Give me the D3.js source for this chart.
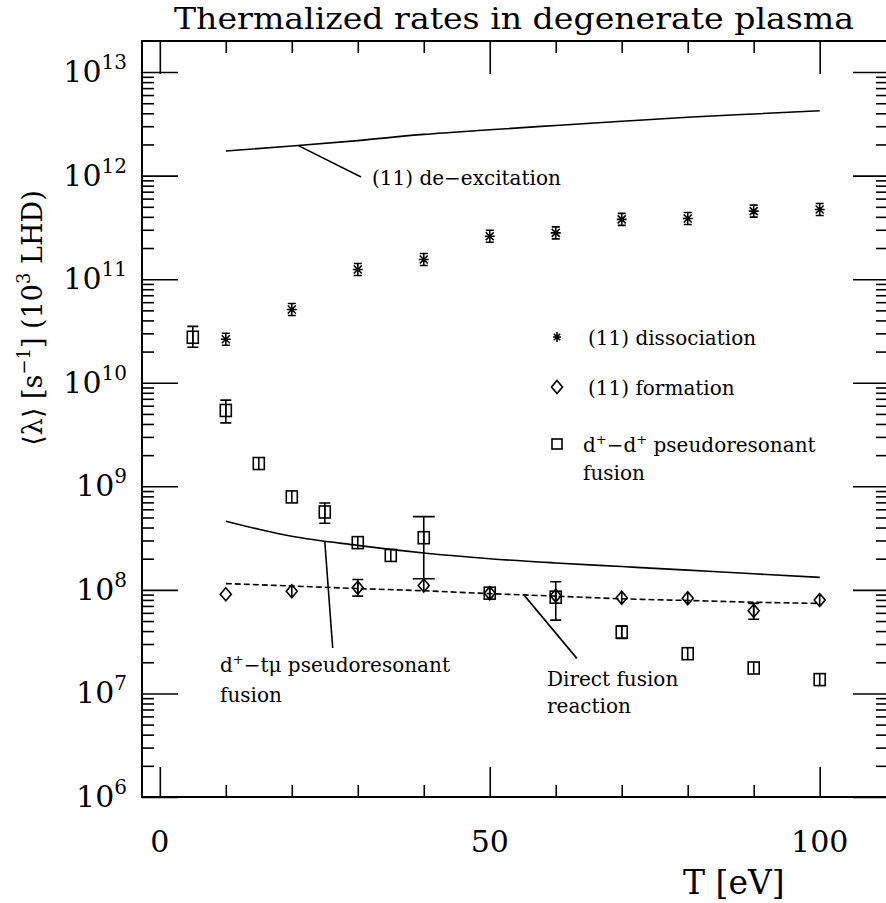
<!DOCTYPE html>
<meta charset="utf-8">
<style>
body { margin: 0; background: #fff; }
text { font-family: "DejaVu Serif", serif; fill: #000; }
.axis path { display: none; }
.axis line { stroke: #000; stroke-width: 1.6; }
.curve { fill: none; stroke: #000; stroke-width: 1.6; }
.mark { fill: none; stroke: #000; stroke-width: 1.6; }
</style>
<svg width="886" height="903"></svg>
<script src="https://cdnjs.cloudflare.com/ajax/libs/d3/7.8.5/d3.min.js"></script>
<script>
"use strict";

// (11) de-excitation, solid curve
var deexT    = [10, 20, 30, 40, 50, 60, 70, 80, 90, 100];
var deexRate = [1.73e12, 1.93e12, 2.18e12, 2.5e12, 2.77e12, 3.05e12, 3.35e12, 3.66e12, 3.94e12, 4.23e12];

// d+-tmu pseudoresonant fusion, solid curve
var dtmuT    = [10, 15, 20, 30, 40, 50, 60, 70, 80, 90, 100];
var dtmuRate = [4.6e8, 3.85e8, 3.29e8, 2.69e8, 2.27e8, 2.0e8, 1.82e8, 1.68e8, 1.55e8, 1.43e8, 1.32e8];

// direct fusion reaction, dashed curve
var dirT    = [10, 20, 30, 40, 50, 60, 70, 80, 90, 100];
var dirRate = [1.15e8, 1.09e8, 1.03e8, 9.8e7, 9.2e7, 8.7e7, 8.2e7, 7.9e7, 7.6e7, 7.4e7];

// (11) dissociation, asterisks
var dissT    = [10, 20, 30, 40, 50, 60, 70, 80, 90, 100];
var dissRate = [2.63e10, 5.1e10, 1.24e11, 1.55e11, 2.6e11, 2.8e11, 3.78e11, 3.86e11, 4.54e11, 4.71e11];

// (11) formation, diamonds
var formT    = [10, 20, 30, 40, 50, 60, 70, 80, 90, 100];
var formRate = [9.06e7, 9.7e7, 1.05e8, 1.1e8, 9.3e7, 8.8e7, 8.4e7, 8.3e7, 6.3e7, 8.0e7];
var formLo   = [null, null, 8.7e7, null, null, null, null, null, 5.2e7, null];
var formHi   = [null, null, 1.26e8, null, null, null, null, null, 7.4e7, null];

// d+-d+ pseudoresonant fusion, squares
var ddT    = [5, 10, 15, 20, 25, 30, 35, 40, 50, 60, 70, 80, 90, 100];
var ddRate = [2.75e10, 5.4e9, 1.66e9, 7.9e8, 5.65e8, 2.86e8, 2.15e8, 3.19e8, 9.3e7, 8.5e7, 3.9e7, 2.42e7, 1.76e7, 1.36e7];
var ddLo   = [2.2e10, 4.1e9, null, null, 4.4e8, null, null, 1.28e8, null, 5.1e7, 3.4e7, null, null, null];
var ddHi   = [3.5e10, 6.8e9, null, null, 6.9e8, null, null, 5.1e8, null, 1.2e8, 4.5e7, null, null, null];

var xMajor = [0, 50, 100];
var xMinor = [10, 20, 30, 40, 60, 70, 80, 90];
var yExp   = [6, 7, 8, 9, 10, 11, 12, 13];

var svg = d3.select("svg");
var pLeft = 142, pRight = 887, pTop = 41, pBottom = 797;

var x = d3.scaleLinear().domain([-2.7, 110.2]).range([pLeft, pRight]);
var y = d3.scaleLog().domain([1e6, Math.pow(10, 13.3)]).range([pBottom, pTop]);

var yMajor = yExp.map(function(e) { return Math.pow(10, e); });
var yMinor = [];
yExp.slice(0, -1).forEach(function(e) {
  for (var m = 2; m <= 9; m++) yMinor.push(m * Math.pow(10, e));
});

// frame
svg.append("rect")
  .attr("x", pLeft).attr("y", pTop)
  .attr("width", pRight - pLeft).attr("height", pBottom - pTop)
  .attr("fill", "none").attr("stroke", "#000").attr("stroke-width", 2);

function addAxis(axis, vals, size, tx, ty) {
  svg.append("g").attr("class", "axis")
    .attr("transform", "translate(" + tx + "," + ty + ")")
    .call(axis.tickValues(vals).tickSize(-size).tickSizeOuter(0).tickFormat(""));
}
addAxis(d3.axisLeft(y), yMajor, 36, pLeft, 0);
addAxis(d3.axisLeft(y), yMinor, 12, pLeft, 0);
addAxis(d3.axisRight(y), yMajor, 34, pRight, 0);
addAxis(d3.axisRight(y), yMinor, 11, pRight, 0);
addAxis(d3.axisTop(x), xMajor, 33, 0, pTop);
addAxis(d3.axisTop(x), xMinor, 12, 0, pTop);
addAxis(d3.axisBottom(x), xMajor, 30, 0, pBottom);
addAxis(d3.axisBottom(x), xMinor, 12, 0, pBottom);

// tick labels
yExp.forEach(function(e) {
  var t = svg.append("text")
    .attr("x", 127).attr("y", y(Math.pow(10, e)) + 10)
    .attr("text-anchor", "end").style("font-size", "30px");
  t.append("tspan").text("10");
  t.append("tspan").attr("dy", -13).style("font-size", "20px").text(e);
});
xMajor.forEach(function(v) {
  svg.append("text")
    .attr("x", x(v)).attr("y", 852)
    .attr("text-anchor", "middle").style("font-size", "30px")
    .text(v);
});

// titles
svg.append("text")
  .attr("x", 514).attr("y", 29)
  .attr("text-anchor", "middle").style("font-size", "30px")
  .attr("textLength", 680).attr("lengthAdjust", "spacingAndGlyphs")
  .text("Thermalized rates in degenerate plasma");

svg.append("text")
  .attr("x", 683).attr("y", 894)
  .style("font-size", "33px")
  .text("T [eV]");

var yl = svg.append("text")
  .attr("transform", "translate(42,318) rotate(-90)")
  .attr("text-anchor", "middle").style("font-size", "27px");
yl.append("tspan").text("\u27E8\u03BB\u27E9 [s");
yl.append("tspan").attr("dy", -12).style("font-size", "18px").text("\u22121");
yl.append("tspan").attr("dy", 12).text("] (10");
yl.append("tspan").attr("dy", -12).style("font-size", "18px").text("3");
yl.append("tspan").attr("dy", 12).text(" LHD)");

// curves
function curve(ts, vs, dash) {
  var pts = ts.map(function(t, i) { return [t, vs[i]]; });
  svg.append("path").datum(pts)
    .attr("class", "curve")
    .attr("stroke-dasharray", dash || null)
    .attr("d", d3.line()
      .x(function(d) { return x(d[0]); })
      .y(function(d) { return y(d[1]); })
      .curve(d3.curveMonotoneX));
}
curve(deexT, deexRate);
curve(dtmuT, dtmuRate);
curve(dirT, dirRate, "6,3");

// markers
function asterisk(g, cx, cy, r, caps) {
  var d = "M" + (cx - r) + "," + cy + "h" + 2 * r +
          "M" + cx + "," + (cy - r - 1) + "v" + (2 * r + 2) +
          "M" + (cx - r * 0.8) + "," + (cy - r * 0.8) + "l" + 1.6 * r + "," + 1.6 * r +
          "M" + (cx - r * 0.8) + "," + (cy + r * 0.8) + "l" + 1.6 * r + "," + (-1.6 * r);
  if (caps) {
    d += "M" + (cx - r + 1) + "," + (cy - r - 1) + "h" + (2 * r - 2) +
         "M" + (cx - r + 1) + "," + (cy + r + 1) + "h" + (2 * r - 2);
  }
  g.append("path").attr("class", "mark").attr("d", d);
}
function diamond(g, cx, cy, inner) {
  var d = "M" + cx + "," + (cy - 6.5) + "L" + (cx + 5.5) + "," + cy +
          "L" + cx + "," + (cy + 6.5) + "L" + (cx - 5.5) + "," + cy + "Z";
  if (inner) d += "M" + cx + "," + (cy - 6.5) + "v13";
  g.append("path").attr("class", "mark").attr("d", d);
}
function square(g, cx, cy, inner) {
  g.append("rect").attr("class", "mark")
    .attr("x", cx - 5.5).attr("y", cy - 6).attr("width", 11).attr("height", 12);
  if (inner) g.append("line").attr("class", "mark")
    .attr("x1", cx).attr("x2", cx).attr("y1", cy - 6).attr("y2", cy + 6);
}
function errbar(g, cx, lo, hi) {
  var y1 = y(hi), y2 = y(lo);
  var w = (y2 - y1) > 50 ? 11 : 5.5;
  g.append("path").attr("class", "mark")
    .attr("d", "M" + cx + "," + y1 + "V" + y2 +
               "M" + (cx - w) + "," + y1 + "h" + 2 * w +
               "M" + (cx - w) + "," + y2 + "h" + 2 * w);
}

var gm = svg.append("g");
dissT.forEach(function(t, i) { asterisk(gm, x(t), y(dissRate[i]), 5, true); });
formT.forEach(function(t, i) {
  if (formLo[i] != null) errbar(gm, x(t), formLo[i], formHi[i]);
  diamond(gm, x(t), y(formRate[i]), i > 0);
});
ddT.forEach(function(t, i) {
  if (ddLo[i] != null) errbar(gm, x(t), ddLo[i], ddHi[i]);
  square(gm, x(t), y(ddRate[i]), true);
});

// annotations
function pointer(t1, v1, t2, v2) {
  svg.append("line").attr("class", "curve")
    .attr("x1", x(t1)).attr("y1", y(v1))
    .attr("x2", x(t2)).attr("y2", y(v2));
}
function label(px, py, parts) {
  var t = svg.append("text").attr("x", px).attr("y", py).style("font-size", "20px");
  parts.forEach(function(p) {
    var s = t.append("tspan").text(p[0]);
    if (p[1]) s.attr("dy", p[1]);
    if (p[2]) s.style("font-size", p[2]);
  });
}

pointer(21, 1.95e12, 30.5, 9.7e11);
label(372, 185, [["(11) de\u2212excitation"]]);

pointer(25, 2.93e8, 26.2, 2.75e7);
label(220, 672, [["d"], ["+", -8, "13px"], ["\u2212t\u03BC pseudoresonant", 8]]);
label(220, 702, [["fusion"]]);

pointer(55.2, 8.9e7, 63.2, 2.18e7);
label(547, 686, [["Direct fusion"]]);
label(547, 713, [["reaction"]]);

// legend
var gl = svg.append("g");
asterisk(gl, 557, 337, 4, false);
label(588, 345, [["(11) dissociation"]]);
diamond(gl, 557, 387, false);
label(588, 395, [["(11) formation"]]);
gl.append("rect").attr("class", "mark")
  .attr("x", 552).attr("y", 439).attr("width", 10).attr("height", 10);
label(583, 452, [["d"], ["+", -8, "13px"], ["\u2212d", 8], ["+", -8, "13px"], [" pseudoresonant", 8]]);
label(583, 480, [["fusion"]]);
</script>
